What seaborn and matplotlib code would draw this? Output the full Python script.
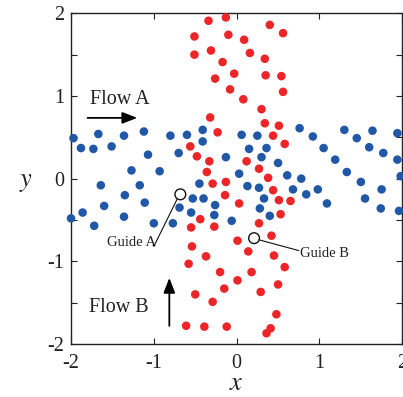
import numpy as np
import pandas as pd
import matplotlib
matplotlib.use("Agg")
import matplotlib.pyplot as plt
import seaborn as sns

# Flow A (blue) agents
flow_a_x = [-1.97, -1.88, -1.73, -1.67, -1.51, -1.36, -1.12, -1.07, -1.27, -0.93,
            -0.80, -0.70, -0.60, -0.41, -0.41, -0.13, 0.03, 0.06, 0.25, 0.15,
            0.36, 0.30, 0.50, 0.61, 0.78, 0.76, 0.92, 1.05, 1.19, 1.33,
            1.50, 1.30, 1.45, 1.64, 1.60, 1.77, 1.94, 1.94, 1.98, -1.64,
            -1.17, -1.35, -1.11, -1.60, -1.86, -2.00, -1.72, -1.36, -1.00, -0.77,
            -0.69, -0.55, -0.45, -0.53, -0.40, -0.26, -0.27, -0.06, 0.13, 0.27,
            0.68, 0.84, 0.98, 0.33, 0.28, 0.40, 1.09, 1.75, 1.55, 1.74, 1.96]
flow_a_y = [0.49, 0.37, 0.36, 0.54, 0.39, 0.52, 0.57, 0.29, 0.10, 0.09,
            0.52, 0.31, 0.53, 0.59, 0.45, 0.26, 0.06, 0.53, 0.52, 0.36,
            0.37, 0.26, 0.19, 0.04, 0.00, 0.61, 0.51, 0.37, 0.23, 0.08,
            -0.04, 0.59, 0.49, 0.58, 0.38, 0.31, 0.55, 0.23, 0.03, -0.08,
            -0.08, -0.20, -0.29, -0.33, -0.41, -0.48, -0.57, -0.46, -0.54, -0.54,
            -0.35, -0.41, -0.06, -0.24, -0.24, -0.32, -0.44, -0.51, -0.09, -0.11,
            -0.13, -0.19, -0.13, -0.24, -0.36, -0.45, -0.30, -0.13, -0.24, -0.36, -0.39]

# Flow B (red) agents
flow_b_x = [-0.34, -0.13, -0.51, -0.10, -0.51, -0.31, -0.17, -0.03, -0.26, -0.08,
            -0.32, -0.23, -0.56, -0.48, -0.33, -0.36, 0.40, 0.56, 0.09, 0.16,
            0.34, 0.35, 0.54, 0.56, 0.08, 0.30, 0.34, 0.51, 0.44, 0.58,
            0.12, 0.27, 0.38, -0.29, -0.13, -0.14, 0.03, -0.44, -0.55, -0.27,
            0.01, -0.54, -0.37, -0.58, -0.20, 0.01, -0.15, -0.50, -0.29, -0.61,
            -0.39, -0.12, 0.44, 0.51, 0.65, 0.53, 0.27, 0.42, 0.14, 0.45,
            0.58, 0.18, 0.50, 0.29, 0.48, 0.41, 0.36]
flow_b_y = [1.91, 1.95, 1.72, 1.74, 1.50, 1.55, 1.41, 1.27, 1.21, 1.08,
            0.74, 0.56, 0.39, 0.27, 0.21, 0.08, 1.86, 1.76, 1.68, 1.52,
            1.45, 1.25, 1.24, 1.05, 0.96, 0.84, 0.67, 0.64, 0.52, 0.42,
            0.21, 0.12, 0.01, -0.06, -0.04, -0.20, -0.30, -0.49, -0.59, -0.58,
            -0.75, -0.82, -0.94, -1.03, -1.13, -1.23, -1.33, -1.40, -1.49, -1.78,
            -1.79, -1.79, -0.14, -0.26, -0.27, -0.43, -0.54, -0.69, -0.88, -0.93,
            -1.07, -1.13, -1.28, -1.37, -1.64, -1.81, -1.87]

guide_a = (-0.68, -0.19)
guide_b = (0.21, -0.72)

x_ticks = [-2, -1, 0, 1, 2]
y_ticks = [-2, -1, 0, 1, 2]
y_minor = [-1.5, -0.5, 0.5, 1.5]

df = pd.DataFrame({
    "x": flow_a_x + flow_b_x,
    "y": flow_a_y + flow_b_y,
    "flow": ["A"] * len(flow_a_x) + ["B"] * len(flow_b_x),
})

sns.set_style("ticks")
plt.rcParams["font.family"] = ["Liberation Serif", "DejaVu Serif"]
plt.rcParams["mathtext.fontset"] = "stix"

fig = plt.figure(figsize=(4.03, 3.97), dpi=100)
ax = fig.add_axes([0.1762, 0.1335, 0.8221, 0.833])

sns.scatterplot(data=df, x="x", y="y", hue="flow",
                palette={"A": "#2157a7", "B": "#ec2528"},
                s=38, linewidth=0, legend=False, clip_on=False, ax=ax, zorder=3)

# guide markers (open circles)
ax.scatter([guide_a[0], guide_b[0]], [guide_a[1], guide_b[1]], s=60,
           facecolors="none", edgecolors="#111111", linewidths=1.0, zorder=4)
ax.plot([-0.72, -1.00], [-0.25, -0.82], color="#111111", lw=0.8, zorder=4)
ax.plot([0.27, 0.75], [-0.74, -0.87], color="#111111", lw=0.8, zorder=4)
ax.text(-0.97, -0.77, "Guide A", ha="right", va="center", fontsize=10.5, color="#222222")
ax.text(0.77, -0.90, "Guide B", ha="left", va="center", fontsize=10.5, color="#222222")

# flow labels + arrows
ax.text(-1.41, 0.96, "Flow A", ha="center", va="center", fontsize=14.5, color="#222222")
ax.annotate("", xy=(-1.20, 0.735), xytext=(-1.80, 0.735),
            arrowprops=dict(arrowstyle="-|>,head_length=0.9,head_width=0.35",
                            color="black", lw=1.3, shrinkA=0, shrinkB=0))
ax.text(-1.42, -1.56, "Flow B", ha="center", va="center", fontsize=14.5, color="#222222")
ax.annotate("", xy=(-0.813, -1.20), xytext=(-0.813, -1.78),
            arrowprops=dict(arrowstyle="-|>,head_length=0.9,head_width=0.35",
                            color="black", lw=1.3, shrinkA=0, shrinkB=0))

ax.set_xlim(-2, 2)
ax.set_ylim(-2, 2)
ax.set_xticks(x_ticks)
ax.set_xticklabels([str(t) for t in x_ticks])
ax.set_yticks(y_ticks)
ax.set_yticklabels([str(t) for t in y_ticks])
ax.set_yticks(y_minor, minor=True)
ax.tick_params(axis="both", which="both", direction="in", top=True, right=True,
               length=4, width=0.8, color="#222222", labelsize=14.5, labelcolor="#222222")
ax.tick_params(axis="x", pad=7)
ax.tick_params(axis="y", pad=5)

ax.set_xlabel("$x$", fontsize=19, labelpad=0, color="#222222")
ax.set_ylabel("$y$", fontsize=19, rotation=0, color="#222222")
ax.yaxis.set_label_coords(-0.135, 0.488)
ax.yaxis.label.set_va("center")

for sp in ax.spines.values():
    sp.set_linewidth(1.0)
    sp.set_color("#222222")

fig.savefig("out.png", dpi=100)
